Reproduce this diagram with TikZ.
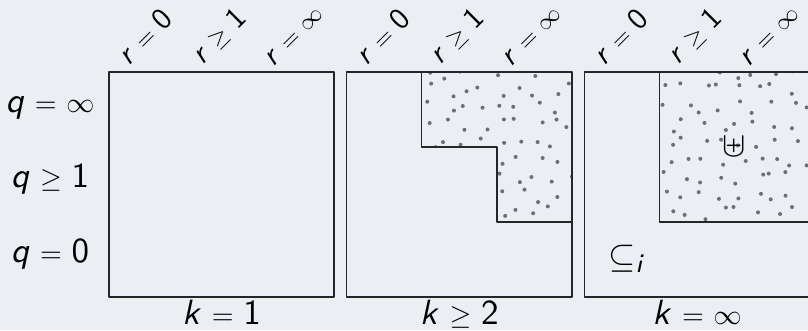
\documentclass[tikz,border=0pt,11pt]{standalone}
\DeclareMathAlphabet{\mathsfit}{OT1}{cmss}{m}{sl}
\newcommand{\sy}[1]{\scalebox{0.8}{$#1$}}
\definecolor{bgcol}{RGB}{235,238,243}
\definecolor{dotcol}{RGB}{110,110,120}
\begin{document}
\begin{tikzpicture}[line join=round, line cap=round, x=30pt, y=30pt,
		box/.style={draw=black!85, semithick},
		lbl/.style={inner sep=0pt, scale=1.28}]
			\def\w{10.773} 	\def\h{4.4}	\def\xa{1.453} \def\yb{0.44} \def\pitch{3.17}
			\def\eq{\mathrel{\sy{=}}} \def\ge{\mathrel{\sy{\geq}}} \def\inf{\mathord{\sy{\infty}}}
			\fill[bgcol] (0,0) rectangle (\w,\h);
			\useasboundingbox (0,0) rectangle (\w,\h);
			\pgfmathsetseed{7}
			\begin{scope}[shift={(\xa+\pitch,\yb)}]
				\clip (1,3) -- (3,3) -- (3,1) -- (2,1) -- (2,2) -- (1,2) -- cycle;
				\foreach \i in {0,...,8} \foreach \j in {0,...,8}
					\fill[dotcol] ({1.12+0.235*\i+0.09*rand},{1.12+0.235*\j+0.09*rand}) circle (0.8pt);
			\end{scope}
			\begin{scope}[shift={(\xa+2*\pitch,\yb)}]
				\clip (1,1) rectangle (3,3);
				\foreach \i in {0,...,8} \foreach \j in {0,...,8}
					\fill[dotcol] ({1.12+0.235*\i+0.09*rand},{1.12+0.235*\j+0.09*rand}) circle (0.8pt);
			\end{scope}
			\foreach \b/\kl in {0/{\eq\mathsf{1}}, 1/{\ge\mathsf{2}}, 2/{\eq\inf}}{
				\draw[box] (\xa+\b*\pitch,\yb) rectangle ++(3,3);
				\node[lbl, anchor=base] (k\b) at (\xa+\b*\pitch+1.5,0.067) {$\mathsfit{k}\kl$};
				\foreach \c/\rl in {0/{\eq\mathsf{0}}, 1/{\ge\mathsf{1}}, 2/{\eq\inf}}
					\node[lbl, scale=0.86, rotate=45] (r\b\c) at (\xa+\b*\pitch+\c+0.47,3.91) {$\mathsfit{r}\rl$};
			}
			\draw[box] (\xa+\pitch+1,\yb+3) -- (\xa+\pitch+1,\yb+2) -- (\xa+\pitch+2,\yb+2) -- (\xa+\pitch+2,\yb+1) -- (\xa+\pitch+3,\yb+1);
			\draw[box] (\xa+2*\pitch+1,\yb+3) -- (\xa+2*\pitch+1,\yb+1) -- (\xa+2*\pitch+3,\yb+1);
			\foreach \y/\ql [count=\n] in {2.897/{\eq\inf}, 1.897/{\ge\mathsf{1}}, 0.897/{\eq\mathsf{0}}}
				\node[lbl, anchor=base] (q\n) at (0.667,\y) {$\mathsfit{q}\ql$};
			\node[lbl] (uplus) at (\xa+2*\pitch+2,\yb+2) {$\uplus$};
			\node[lbl] (subi) at (\xa+2*\pitch+0.57,\yb+0.51) {$\subseteq_{\mathsfit{i}}$};
		\end{tikzpicture}
\end{document}
